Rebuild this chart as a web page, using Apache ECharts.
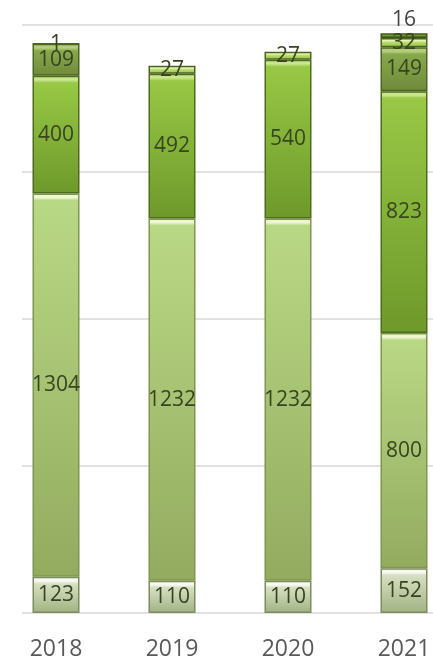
<!DOCTYPE html>
<html>
<head>
<meta charset="utf-8">
<script src="https://cdn.jsdelivr.net/npm/echarts@6/dist/echarts.min.js"></script>
<style>
html,body{margin:0;padding:0;background:#fff;}
#chart{width:433px;height:661px;}
</style>
</head>
<body>
<div id="chart"></div>
<script>
const categories = ['2018', '2019', '2020', '2021'];
const seg1 = [123, 110, 110, 152];
const seg2 = [1304, 1232, 1232, 800];
const seg3 = [400, 492, 540, 823];
const seg4 = [109, null, null, 149];
const seg5 = [1, 27, 27, 32];
const seg6 = [null, null, null, 16];
const yMax = 2000;
const yStep = 500;

const palettes = [
  {hi: '#f7f9ef', top: '#d6dfc2', bottom: '#a2b282', border: '#7d8c5e'},
  {hi: '#eef7cf', top: '#b9d885', bottom: '#93ab5f', border: '#7f9650'},
  {hi: '#c9e58e', top: '#98c845', bottom: '#6e992b', border: '#4e6d1c'},
  {hi: '#b4cc7c', top: '#88a84c', bottom: '#6f8a3a', border: '#4f6424'},
  {hi: '#e4f3b0', top: '#b5d968', bottom: '#9cc24e', border: '#4d6420'},
  {hi: '#9cbb5a', top: '#6f9232', bottom: '#5a7a26', border: '#3e5518'}
];

const chart = echarts.init(document.getElementById('chart'), null, {renderer: 'canvas'});
const gridTop = 25, gridBottom = 48;
const plotH = 661 - gridTop - gridBottom;

function makeData(arr, pal) {
  return arr.map(v => {
    if (v === null) return null;
    const h = Math.max(1, v * plotH / yMax);
    const f = Math.min(0.5, 7 / h);
    return {
      value: v,
      itemStyle: {
        color: new echarts.graphic.LinearGradient(0, 0, 0, 1, [
          {offset: 0, color: pal.hi},
          {offset: f * 0.6, color: pal.hi},
          {offset: f, color: pal.top},
          {offset: 1, color: pal.bottom}
        ]),
        borderColor: pal.border,
        borderWidth: 1.5
      }
    };
  });
}

const allSegs = [seg1, seg2, seg3, seg4, seg5, seg6];
const series = allSegs.map((arr, i) => ({
  type: 'bar',
  stack: 'total',
  xAxisIndex: 1,
  yAxisIndex: 1,
  barWidth: 47,
  data: makeData(arr, palettes[i]),
  label: {
    show: true,
    position: i === 5 ? 'top' : 'inside',
    distance: 3,
    color: i === 5 ? '#444444' : '#36441f',
    fontSize: 21,
    fontFamily: 'Open Sans',
    formatter: p => (p.value === null || p.value === undefined) ? '' : String(p.value)
  }
}));

chart.setOption({
  animation: false,
  grid: [
    {left: 22, right: 0, top: gridTop, bottom: gridBottom, outerBoundsMode: 'none', containLabel: false},
    {left: -2, right: -29, top: gridTop, bottom: gridBottom, outerBoundsMode: 'none', containLabel: false}
  ],
  xAxis: [
    {gridIndex: 0, type: 'category', data: categories, show: false},
    {
      gridIndex: 1, type: 'category', data: categories,
      axisLine: {show: false}, axisTick: {show: false},
      axisLabel: {color: '#595959', fontSize: 23, fontFamily: 'Open Sans', margin: 25}
    }
  ],
  yAxis: [
    {
      gridIndex: 0, type: 'value', min: 0, max: yMax, interval: yStep,
      axisLabel: {show: false}, axisLine: {show: false}, axisTick: {show: false},
      splitLine: {show: true, lineStyle: {color: '#d9d9d9', width: 1.5}}
    },
    {
      gridIndex: 1, type: 'value', min: 0, max: yMax, interval: yStep,
      show: false, splitLine: {show: false}
    }
  ],
  series: series
});
</script>
</body>
</html>
